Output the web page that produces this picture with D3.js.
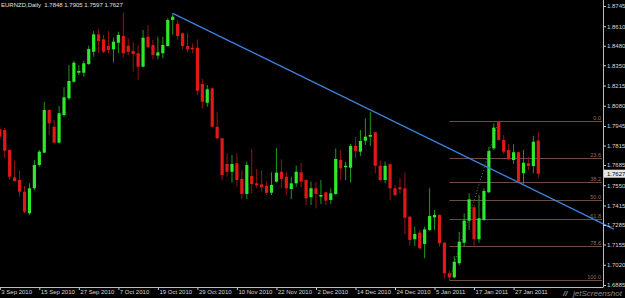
<!DOCTYPE html>
<html>
<head>
<meta charset="utf-8">
<script src="https://cdn.jsdelivr.net/npm/d3@7"></script>
<style>
  body { margin: 0; background: #000; }
  svg { display: block; }
  text { font-family: "Liberation Sans", Arial, sans-serif; }
</style>
</head>
<body>
<div id="chart"></div>
<script>
//chart header
var header = "EURNZD,Daily  1.7848 1.7905 1.7597 1.7627";

//daily candles, one entry per trading day starting 3 Sep 2010
var opens = [1.7923,1.7918,1.7785,1.7603,1.7585,1.7507,1.7363,1.7530,1.7685,1.7767,
  1.8052,1.7940,1.7834,1.8018,1.8130,1.8240,1.8300,1.8300,1.8358,1.8440,
  1.8556,1.8523,1.8478,1.8456,1.8500,1.8545,1.8480,1.8445,1.8430,1.8340,
  1.8540,1.8485,1.8414,1.8430,1.8478,1.8652,1.8625,1.8563,1.8478,1.8467,
  1.8467,1.8225,1.8100,1.8196,1.7940,1.7863,1.7692,1.7640,1.7696,1.7592,
  1.7492,1.7612,1.7563,1.7556,1.7545,1.7500,1.7574,1.7640,1.7607,1.7525,
  1.7563,1.7636,1.7585,1.7470,1.7530,1.7474,1.7503,1.7452,1.7492,1.7718,
  1.7670,1.7667,1.7812,1.7774,1.7847,1.7874,1.7903,1.7680,1.7585,1.7690,
  1.7530,1.7536,1.7530,1.7340,1.7190,1.7234,1.7158,1.7252,1.7336,1.7352,
  1.7167,1.6963,1.6936,1.7030,1.7167,1.7314,1.7403,1.7190,1.7318,1.7503,
  1.7796,1.7972,1.7852,1.7785,1.7718,1.7770,1.7630,1.7696,1.7678,1.7848];
var highs = [1.7938,1.7932,1.7790,1.7712,1.7647,1.7545,1.7563,1.7718,1.7785,1.8107,
  1.8055,1.7985,1.8078,1.8203,1.8352,1.8380,1.8352,1.8380,1.8480,1.8578,
  1.8590,1.8552,1.8578,1.8534,1.8574,1.8700,1.8530,1.8503,1.8485,1.8585,
  1.8618,1.8518,1.8540,1.8540,1.8663,1.8696,1.8652,1.8568,1.8563,1.8496,
  1.8523,1.8258,1.8218,1.8203,1.8040,1.7866,1.7763,1.7752,1.7763,1.7652,
  1.7707,1.7790,1.7658,1.7652,1.7574,1.7636,1.7800,1.7723,1.7640,1.7607,
  1.7680,1.7700,1.7590,1.7574,1.7574,1.7585,1.7507,1.7530,1.7796,1.7785,
  1.7707,1.7825,1.7870,1.7918,1.7996,1.8040,1.7905,1.7714,1.7707,1.7696,
  1.7552,1.7596,1.7634,1.7345,1.7274,1.7252,1.7274,1.7530,1.7385,1.7356,
  1.7170,1.6980,1.7078,1.7240,1.7363,1.7496,1.7418,1.7485,1.7530,1.7807,
  1.7963,1.7980,1.7885,1.7825,1.7823,1.7774,1.7785,1.7740,1.7878,1.7905];
var lows = [1.7858,1.7732,1.7585,1.7572,1.7474,1.7365,1.7352,1.7518,1.7674,1.7765,
  1.7885,1.7830,1.7830,1.8007,1.8118,1.8234,1.8285,1.8274,1.8352,1.8407,
  1.8434,1.8430,1.8430,1.8370,1.8430,1.8403,1.8418,1.8307,1.8252,1.8338,
  1.8463,1.8390,1.8390,1.8396,1.8474,1.8552,1.8523,1.8456,1.8440,1.8430,
  1.8152,1.8063,1.8074,1.7936,1.7856,1.7585,1.7607,1.7567,1.7540,1.7458,
  1.7458,1.7496,1.7530,1.7507,1.7485,1.7485,1.7567,1.7530,1.7485,1.7458,
  1.7540,1.7536,1.7418,1.7418,1.7396,1.7425,1.7418,1.7425,1.7485,1.7585,
  1.7585,1.7567,1.7730,1.7745,1.7818,1.7812,1.7630,1.7574,1.7563,1.7452,
  1.7478,1.7496,1.7225,1.7147,1.7145,1.7123,1.7063,1.7247,1.7252,1.7140,
  1.6930,1.6918,1.6930,1.7018,1.7140,1.7252,1.7140,1.7167,1.7314,1.7500,
  1.7785,1.7847,1.7758,1.7718,1.7692,1.7567,1.7558,1.7652,1.7630,1.7597];
var closes = [1.7874,1.7780,1.7607,1.7578,1.7507,1.7374,1.7530,1.7685,1.7774,1.8052,
  1.7963,1.7834,1.8030,1.8136,1.8245,1.8367,1.8312,1.8363,1.8458,1.8556,
  1.8512,1.8440,1.8452,1.8507,1.8552,1.8430,1.8440,1.8425,1.8340,1.8534,
  1.8470,1.8418,1.8436,1.8485,1.8652,1.8674,1.8545,1.8478,1.8456,1.8456,
  1.8180,1.8107,1.8190,1.7940,1.7863,1.7618,1.7640,1.7692,1.7585,1.7492,
  1.7685,1.7558,1.7550,1.7536,1.7500,1.7552,1.7634,1.7592,1.7530,1.7563,
  1.7640,1.7574,1.7463,1.7530,1.7492,1.7485,1.7447,1.7496,1.7725,1.7663,
  1.7680,1.7812,1.7780,1.7845,1.7874,1.7885,1.7680,1.7585,1.7680,1.7530,
  1.7485,1.7523,1.7334,1.7185,1.7225,1.7130,1.7256,1.7345,1.7352,1.7163,
  1.6963,1.6936,1.7040,1.7174,1.7314,1.7456,1.7190,1.7330,1.7512,1.7778,
  1.7934,1.7852,1.7774,1.7723,1.7770,1.7574,1.7700,1.7678,1.7840,1.7627];

//time axis labels (every 8th bar)
var tickBars = [0, 8, 16, 24, 32, 40, 48, 56, 64, 72, 80, 88, 96, 104];
var tickLabels = ["3 Sep 2010", "15 Sep 2010", "27 Sep 2010", "7 Oct 2010", "19 Oct 2010",
  "29 Oct 2010", "10 Nov 2010", "22 Nov 2010", "2 Dec 2010", "14 Dec 2010",
  "24 Dec 2010", "5 Jan 2011", "17 Jan 2011", "27 Jan 2011"];

//price scale labels
var priceTicks = [1.8745, 1.8610, 1.8480, 1.8350, 1.8215, 1.8080, 1.7945, 1.7815,
  1.7685, 1.7550, 1.7415, 1.7285, 1.7155, 1.7020, 1.6885];
var lastPrice = 1.7627;

//fibonacci retracement drawn from the 10 Jan low to the 19 Jan high
var fibLevels = [0, 23.6, 38.2, 50, 61.8, 78.6, 100];
var fibLabels = ["0.0", "23.6", "38.2", "50.0", "61.8", "78.6", "100.0"];
var fibBars = [91, 101];
var fibPrices = [1.6918, 1.7980];

//trendline from the 19 Oct high
var trendBars = [35, 124.3];
var trendPrices = [1.8696, 1.7258];

var W = 625, H = 298;
var plotRight = 603, plotBottom = 287;

var svg = d3.select("#chart").append("svg")
    .attr("width", W)
    .attr("height", H);

svg.append("rect")
    .attr("width", W)
    .attr("height", H)
    .attr("fill", "#000");

//scales
var x = d3.scaleLinear()
    .domain([0, 122])
    .range([-0.2, 602.5]);

var y = d3.scaleLinear()
    .domain([1.6885, 1.8745])
    .range([285, 6]);

var plot = svg.append("g");

//fibonacci lines (behind the candles)
function fibPrice(lv) {
    return fibPrices[1] - (fibPrices[1] - fibPrices[0]) * lv / 100;
}

plot.append("line")
    .attr("x1", x(fibBars[0]))
    .attr("y1", y(fibPrices[0]))
    .attr("x2", x(fibBars[1]))
    .attr("y2", y(fibPrices[1]))
    .attr("stroke", "#8a8a8a")
    .attr("stroke-width", 0.8)
    .attr("stroke-dasharray", "1,2");

plot.selectAll(".fib")
    .data(fibLevels)
    .enter()
    .append("line")
    .attr("class", "fib")
    .attr("x1", x(fibBars[0]))
    .attr("x2", plotRight - 1)
    .attr("y1", function(d) { return Math.round(y(fibPrice(d))) + 0.5; })
    .attr("y2", function(d) { return Math.round(y(fibPrice(d))) + 0.5; })
    .attr("stroke", "#6e4c40")
    .attr("stroke-width", 1);

plot.selectAll(".fibtxt")
    .data(fibLevels)
    .enter()
    .append("text")
    .attr("class", "fibtxt")
    .attr("x", plotRight - 2)
    .attr("y", function(d) { return y(fibPrice(d)) - 1; })
    .attr("text-anchor", "end")
    .attr("font-size", "5.5px")
    .attr("fill", "#9a6a52")
    .text(function(d, i) { return fibLabels[i]; });

//candles
var bars = d3.range(opens.length);

plot.selectAll(".wick")
    .data(bars)
    .enter()
    .append("line")
    .attr("class", "wick")
    .attr("x1", function(i) { return x(i); })
    .attr("x2", function(i) { return x(i); })
    .attr("y1", function(i) { return y(highs[i]); })
    .attr("y2", function(i) { return y(lows[i]); })
    .attr("stroke", function(i) { return closes[i] >= opens[i] ? "#1f9a1f" : "#961414"; })
    .attr("stroke-width", 1);

plot.selectAll(".body")
    .data(bars)
    .enter()
    .append("rect")
    .attr("class", "body")
    .attr("x", function(i) { return x(i) - 1.6; })
    .attr("width", 3.2)
    .attr("y", function(i) { return y(Math.max(opens[i], closes[i])); })
    .attr("height", function(i) { return Math.max(1, Math.abs(y(opens[i]) - y(closes[i]))); })
    .attr("fill", function(i) { return closes[i] >= opens[i] ? "#2ee82e" : "#e01818"; });

//trendline
plot.append("line")
    .attr("x1", x(trendBars[0]))
    .attr("y1", y(trendPrices[0]))
    .attr("x2", x(trendBars[1]))
    .attr("y2", y(trendPrices[1]))
    .attr("stroke", "#3d80e0")
    .attr("stroke-width", 1.3);

//price axis on the right
var yAxis = svg.append("g")
    .attr("transform", "translate(" + plotRight + ",0)")
    .call(d3.axisRight(y)
        .tickValues(priceTicks)
        .tickSize(2)
        .tickPadding(2)
        .tickFormat(d3.format(".4f")));
yAxis.select(".domain").remove();
yAxis.selectAll("line").attr("stroke", "#cfcfcf").attr("transform", "translate(1,0)");
yAxis.selectAll("text")
    .attr("fill", "#d8d8d8")
    .attr("font-size", "6px")
    .attr("font-family", "Liberation Sans, Arial, sans-serif");

//time axis at the bottom
var xAxis = svg.append("g")
    .attr("transform", "translate(0," + plotBottom + ")")
    .call(d3.axisBottom(x)
        .tickValues(tickBars)
        .tickSize(3)
        .tickFormat(function(d, i) { return tickLabels[i]; }));
xAxis.select(".domain").remove();
xAxis.selectAll("line").attr("stroke", "#cfcfcf");
xAxis.selectAll("text")
    .attr("text-anchor", "start")
    .attr("x", 1)
    .attr("y", 3)
    .attr("fill", "#d8d8d8")
    .attr("font-size", "6px")
    .attr("font-family", "Liberation Sans, Arial, sans-serif");

//axis frame lines
svg.append("line")
    .attr("x1", plotRight + 0.5).attr("x2", plotRight + 0.5)
    .attr("y1", 0).attr("y2", plotBottom)
    .attr("stroke", "#bdbdbd");
svg.append("line")
    .attr("x1", 0).attr("x2", plotRight + 0.5)
    .attr("y1", plotBottom + 0.5).attr("y2", plotBottom + 0.5)
    .attr("stroke", "#bdbdbd");

//last price box
svg.append("rect")
    .attr("x", plotRight + 1)
    .attr("y", y(lastPrice) - 4)
    .attr("width", W - plotRight - 1)
    .attr("height", 8)
    .attr("fill", "#e6e6e6");
svg.append("text")
    .attr("x", plotRight + 4)
    .attr("y", y(lastPrice) + 2.2)
    .attr("font-size", "6px")
    .attr("fill", "#000")
    .text(d3.format(".4f")(lastPrice));

//header
svg.append("text")
    .attr("x", 1)
    .attr("y", 7)
    .attr("font-size", "6px")
    .attr("fill", "#e0e0e0")
    .attr("xml:space", "preserve")
    .text(header);

//watermark
svg.append("text")
    .attr("x", 573)
    .attr("y", 296)
    .attr("font-size", "8px")
    .attr("font-style", "italic")
    .attr("fill", "#8c8c8c")
    .text("jetScreenshot");
svg.append("text")
    .attr("x", 563)
    .attr("y", 296)
    .attr("font-size", "8px")
    .attr("font-style", "italic")
    .attr("font-weight", "bold")
    .attr("fill", "#8c8c8c")
    .text("//");
</script>
</body>
</html>
